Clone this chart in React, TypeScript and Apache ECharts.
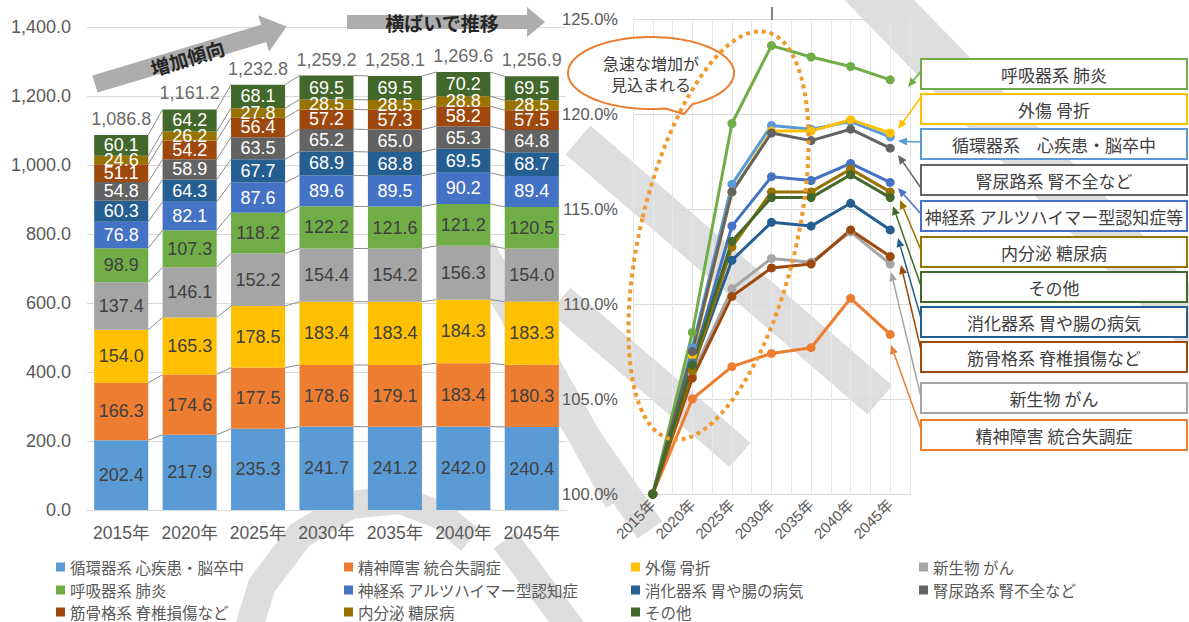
import React, { useEffect, useRef } from "react";
import * as echarts from "echarts";

// ---------- data ----------
const years = ["2015年", "2020年", "2025年", "2030年", "2035年", "2040年", "2045年"];

const seriesNames = [
  "循環器系 心疾患・脳卒中",
  "精神障害 統合失調症",
  "外傷 骨折",
  "新生物 がん",
  "呼吸器系 肺炎",
  "神経系 アルツハイマー型認知症",
  "消化器系 胃や腸の病気",
  "腎尿路系 腎不全など",
  "筋骨格系 脊椎損傷など",
  "内分泌 糖尿病",
  "その他",
];

const colors = [
  "#5B9BD5", "#ED7D31", "#FFC000", "#A5A5A5", "#70AD47",
  "#4472C4", "#255E91", "#636363", "#9E480E", "#997300", "#43682B",
];

const circulatory = [202.4, 217.9, 235.3, 241.7, 241.2, 242.0, 240.4];
const mental = [166.3, 174.6, 177.5, 178.6, 179.1, 183.4, 180.3];
const trauma = [154.0, 165.3, 178.5, 183.4, 183.4, 184.3, 183.3];
const neoplasm = [137.4, 146.1, 152.2, 154.4, 154.2, 156.3, 154.0];
const respiratory = [98.9, 107.3, 118.2, 122.2, 121.6, 121.2, 120.5];
const nervous = [76.8, 82.1, 87.6, 89.6, 89.5, 90.2, 89.4];
const digestive = [60.3, 64.3, 67.7, 68.9, 68.8, 69.5, 68.7];
const renal = [54.8, 58.9, 63.5, 65.2, 65.0, 65.3, 64.8];
const musculo = [51.1, 54.2, 56.4, 57.2, 57.3, 58.2, 57.5];
const endocrine = [24.6, 26.2, 27.8, 28.5, 28.5, 28.8, 28.5];
const other = [60.1, 64.2, 68.1, 69.5, 69.5, 70.2, 69.5];

const totals = [1086.8, 1161.2, 1232.8, 1259.2, 1258.1, 1269.6, 1256.9];

// growth relative to 2015 (%)
const circulatoryPct = [100, 107.7, 116.3, 119.4, 119.2, 119.6, 118.8];
const mentalPct = [100, 105.0, 106.7, 107.4, 107.7, 110.3, 108.4];
const traumaPct = [100, 107.3, 115.9, 119.1, 119.1, 119.7, 119.0];
const neoplasmPct = [100, 106.3, 110.8, 112.4, 112.2, 113.8, 112.1];
const respiratoryPct = [100, 108.5, 119.5, 123.6, 123.0, 122.5, 121.8];
const nervousPct = [100, 106.9, 114.1, 116.7, 116.5, 117.4, 116.4];
const digestivePct = [100, 106.6, 112.3, 114.3, 114.1, 115.3, 113.9];
const renalPct = [100, 107.5, 115.9, 119.0, 118.6, 119.2, 118.2];
const musculoPct = [100, 106.1, 110.4, 111.9, 112.1, 113.9, 112.5];
const endocrinePct = [100, 106.5, 113.0, 115.9, 115.9, 117.1, 115.9];
const otherPct = [100, 106.8, 113.3, 115.6, 115.6, 116.8, 115.6];

const boxLabels = [
  "呼吸器系 肺炎",
  "外傷 骨折",
  "循環器系　心疾患・脳卒中",
  "腎尿路系 腎不全など",
  "神経系 アルツハイマー型認知症等",
  "内分泌 糖尿病",
  "その他",
  "消化器系 胃や腸の病気",
  "筋骨格系 脊椎損傷など",
  "新生物 がん",
  "精神障害 統合失調症",
];
const boxColorIdx = [4, 2, 0, 7, 5, 9, 10, 6, 8, 3, 1];

const stackValues = [circulatory, mental, trauma, neoplasm, respiratory, nervous, digestive, renal, musculo, endocrine, other];
const pctValues = [circulatoryPct, mentalPct, traumaPct, neoplasmPct, respiratoryPct, nervousPct, digestivePct, renalPct, musculoPct, endocrinePct, otherPct];

// ---------- layout (annotation geometry) ----------
const boxTops = [59, 94, 129, 165, 201, 237, 272, 307, 342, 383, 420];
const arrowFrom: number[][] = [
  [921, 71], [921, 97], [921, 142], [921, 188], [921, 214], [921, 250],
  [921, 286], [921, 318], [921, 350], [921, 397], [921, 429],
];
const arrowTo: number[][] = [
  [908, 87], [898, 129], [898, 141], [898, 155], [898, 188], [900, 200],
  [893, 206], [898, 238], [901, 265], [891, 272], [891, 345],
];

const FONT = '"Liberation Sans", Arial, "Noto Sans CJK JP", sans-serif';
const JFONT = '"Noto Sans CJK JP", sans-serif';
const fmt1 = (v: number) =>
  v.toLocaleString("en-US", { minimumFractionDigits: 1, maximumFractionDigits: 1 });

function arrow(x1: number, y1: number, x2: number, y2: number, color: string) {
  const dx = x2 - x1, dy = y2 - y1;
  const L = Math.hypot(dx, dy);
  const ux = dx / L, uy = dy / L;
  const hl = 9, hw = 4;
  const bx = x2 - ux * hl, by = y2 - uy * hl;
  return [
    { type: "line", z: 20, shape: { x1, y1, x2: bx, y2: by }, style: { stroke: color, lineWidth: 1.5 } },
    {
      type: "polygon", z: 20,
      shape: { points: [[x2, y2], [bx - uy * hw, by + ux * hw], [bx + uy * hw, by - ux * hw]] },
      style: { fill: color },
    },
  ];
}

function bubblePoints() {
  const cx = 651, cy = 73, rx = 83, ry = 36;
  const pts: number[][] = [];
  for (let a = 80; a <= 62 + 360; a += 4) {
    const t = (a * Math.PI) / 180;
    pts.push([cx + rx * Math.cos(t), cy + ry * Math.sin(t)]);
  }
  pts.push([684, 114]);
  return pts;
}

const WM = "#DEDEDE";

export default function App() {
  const ref = useRef<HTMLDivElement>(null);

  useEffect(() => {
    if (!ref.current) return;
    const chart = echarts.init(ref.current, undefined, { renderer: "svg" });

    const barSeries = seriesNames.map((name, i) => ({
      name,
      type: "bar",
      stack: "total",
      xAxisIndex: 0,
      yAxisIndex: 0,
      barCategoryGap: "21%",
      data: stackValues[i],
      itemStyle: { color: colors[i] },
      label: {
        show: true,
        position: "inside",
        fontSize: 18,
        fontFamily: FONT,
        color: i < 5 ? "#404040" : "#FFFFFF",
        formatter: (p: any) => Number(p.value).toFixed(1),
      },
      z: 3,
    }));

    const lineSeries = seriesNames.map((name, i) => ({
      name,
      type: "line",
      xAxisIndex: 1,
      yAxisIndex: 1,
      data: pctValues[i],
      symbol: "circle",
      symbolSize: 9,
      lineStyle: { width: 3, color: colors[i] },
      itemStyle: { color: colors[i] },
      z: 4,
    }));

    const seriesLines = {
      name: "seriesLines",
      type: "custom",
      xAxisIndex: 0,
      yAxisIndex: 0,
      z: 2,
      silent: true,
      data: years.slice(0, years.length - 1).map((_, i) => [i, 0]),
      encode: { x: 0, y: 1 },
      renderItem: (params: any, api: any) => {
        const i = params.dataIndex;
        const bw = api.size([1, 0])[0] * 0.79;
        const children: any[] = [];
        let c1 = 0, c2 = 0;
        for (const arr of stackValues) {
          c1 += arr[i];
          c2 += arr[i + 1];
          const p1 = api.coord([i, c1]);
          const p2 = api.coord([i + 1, c2]);
          children.push({
            type: "line",
            shape: { x1: p1[0] + bw / 2, y1: p1[1], x2: p2[0] - bw / 2, y2: p2[1] },
            style: { stroke: "#8C8C8C", lineWidth: 1 },
          });
        }
        return { type: "group", children };
      },
    };

    const totalSeries = {
      name: "total",
      type: "scatter",
      xAxisIndex: 0,
      yAxisIndex: 0,
      data: totals,
      symbolSize: 0,
      silent: true,
      z: 5,
      label: {
        show: true,
        position: "top",
        distance: 7,
        fontSize: 18,
        fontFamily: FONT,
        color: "#404040",
        formatter: (p: any) => fmt1(Number(p.value)),
      },
    };

    const colX = [56, 344, 631, 919];
    const rowY = [559, 582, 604];
    const legends = seriesNames.map((n, i) => ({
      data: [n],
      left: colX[i % 4],
      top: rowY[Math.floor(i / 4)],
      itemWidth: 9,
      itemHeight: 9,
      padding: 0,
      icon: "rect",
      selectedMode: false,
      textStyle: { fontSize: 15.5, color: "#595959", fontFamily: JFONT, lineHeight: 16 },
    }));

    // ---- graphics ----
    const graphics: any[] = [];
    const wm = (pts: number[][], w: number) => ({
      type: "polyline", z: -1, silent: true,
      shape: { points: pts },
      style: { stroke: WM, lineWidth: w, fill: "none", lineCap: "butt", lineJoin: "round" },
    });
    // watermark strokes (behind the charts)
    graphics.push(wm([[578, 140], [880, 400]], 38));
    graphics.push(wm([[560, 300], [700, 420], [740, 455]], 32));
    graphics.push(wm([[560, 400], [650, 530]], 30));
    graphics.push(wm([[855, -25], [1200, 330]], 50));
    graphics.push(wm([[480, 250], [620, 500]], 32));
    graphics.push(wm([[505, 540], [580, 640]], 28));
    graphics.push(wm([[245, 640], [262, 585], [300, 535], [350, 505], [400, 500], [440, 515], [470, 540]], 28));

    // gray trend arrows
    graphics.push({
      type: "polygon", z: 10,
      shape: { points: [[347, 15], [527, 15], [527, 7], [545, 22], [527, 37], [527, 29], [347, 29]] },
      style: { fill: "#ADADAD" },
    });
    graphics.push({
      type: "text", z: 11, x: 442, y: 22,
      style: {
        text: "横ばいで推移", fill: "#262626", fontSize: 19, fontWeight: "bold", fontFamily: JFONT,
        align: "center", verticalAlign: "middle", textAlign: "center", textVerticalAlign: "middle",
      },
    });
    graphics.push({
      type: "group", z: 10, x: 95, y: 84, rotation: (16.7 * Math.PI) / 180,
      children: [
        {
          type: "polygon", z: 10,
          shape: { points: [[0, -9], [176, -9], [176, -19], [200, 0], [176, 19], [176, 9], [0, 9]] },
          style: { fill: "#ADADAD" },
        },
        {
          type: "text", z: 11, x: 96, y: 1,
          style: {
            text: "増加傾向", fill: "#262626", fontSize: 19, fontWeight: "bold", fontFamily: JFONT,
            align: "center", verticalAlign: "middle", textAlign: "center", textVerticalAlign: "middle",
          },
        },
      ],
    });

    // small tick at top of 2030
    graphics.push({
      type: "line", z: 10, shape: { x1: 772, y1: 7, x2: 772, y2: 20 },
      style: { stroke: "#595959", lineWidth: 1.5 },
    });

    // callout bubble
    graphics.push({
      type: "polygon", z: 12,
      shape: { points: bubblePoints() },
      style: { fill: "#FFFFFF", stroke: "#ED7D31", lineWidth: 2 },
    });
    graphics.push({
      type: "text", z: 13, x: 651, y: 63,
      style: {
        text: "急速な増加が", fill: "#404040", fontSize: 16, fontFamily: JFONT,
        align: "center", verticalAlign: "middle", textAlign: "center", textVerticalAlign: "middle",
      },
    });
    graphics.push({
      type: "text", z: 13, x: 651, y: 84,
      style: {
        text: "見込まれる", fill: "#404040", fontSize: 16, fontFamily: JFONT,
        align: "center", verticalAlign: "middle", textAlign: "center", textVerticalAlign: "middle",
      },
    });

    // dotted ellipse
    graphics.push({
      type: "ellipse", z: 14, x: 718.5, y: 235.5, rotation: -0.234,
      shape: { cx: 0, cy: 0, rx: 78, ry: 209 },
      style: { fill: "none", stroke: "#EE9A2D", lineWidth: 4, lineDash: [4, 4] },
    });

    // label boxes + arrows
    boxLabels.forEach((t, k) => {
      const c = colors[boxColorIdx[k]];
      graphics.push({
        type: "rect", z: 15,
        shape: { x: 921, y: boxTops[k], width: 266, height: 30 },
        style: { fill: "#FFFFFF", stroke: c, lineWidth: 2 },
      });
      graphics.push({
        type: "text", z: 16, x: 1054, y: boxTops[k] + 15,
        style: {
          text: t, fill: "#404040", fontSize: 17, fontFamily: JFONT,
          align: "center", verticalAlign: "middle", textAlign: "center", textVerticalAlign: "middle",
        },
      });
      graphics.push(...arrow(arrowFrom[k][0], arrowFrom[k][1], arrowTo[k][0], arrowTo[k][1], c));
    });

    const option: any = {
      animation: false,
      backgroundColor: "#FFFFFF",
      textStyle: { fontFamily: FONT },
      grid: [
        { left: 87, top: 27, width: 479, height: 483, outerBoundsMode: "none" },
        { left: 633, top: 19, width: 277, height: 475, outerBoundsMode: "none" },
      ],
      legend: legends,
      xAxis: [
        {
          type: "category", gridIndex: 0, data: years,
          axisLine: { lineStyle: { color: "#D9D9D9" } },
          axisTick: { show: false },
          axisLabel: { interval: 0, fontSize: 17.5, color: "#595959", margin: 14, fontFamily: FONT },
        },
        {
          type: "category", gridIndex: 1, data: years, boundaryGap: true,
          axisLine: { lineStyle: { color: "#D9D9D9" } },
          axisTick: { show: false },
          axisLabel: { interval: 0, fontSize: 15, color: "#595959", rotate: 45, margin: 8, fontFamily: FONT },
        },
        {
          type: "value", gridIndex: 1, min: 0, max: 14, interval: 1, position: "top",
          axisLine: { show: false }, axisTick: { show: false }, axisLabel: { show: false },
          splitLine: { show: true, lineStyle: { color: "#E6E6E6", width: 1 } },
        },
      ],
      yAxis: [
        {
          type: "value", gridIndex: 0, min: 0, max: 1400, interval: 200,
          axisLine: { show: false }, axisTick: { show: false },
          axisLabel: { fontSize: 18, color: "#595959", margin: 16, formatter: (v: number) => fmt1(v) },
          splitLine: { lineStyle: { color: "#D9D9D9" } },
        },
        {
          type: "value", gridIndex: 1, min: 100, max: 125, interval: 5,
          axisLine: { show: false }, axisTick: { show: false },
          axisLabel: { fontSize: 16.5, color: "#595959", margin: 15, formatter: (v: number) => v.toFixed(1) + "%" },
          splitLine: { lineStyle: { color: "#D9D9D9" } },
        },
      ],
      series: [...barSeries, seriesLines, totalSeries, ...lineSeries],
      graphic: { elements: graphics },
    };

    chart.setOption(option);
    return () => chart.dispose();
  }, []);

  return (
    <div
      ref={ref}
      style={{ position: "fixed", left: 0, top: 0, width: 1189, height: 622, background: "#fff" }}
    />
  );
}
